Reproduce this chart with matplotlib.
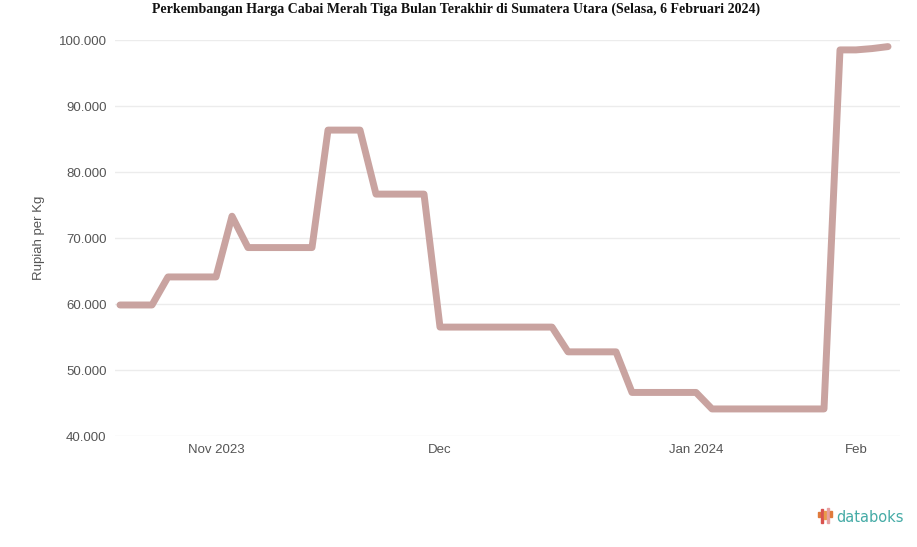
import numpy as np
import matplotlib
matplotlib.use('Agg')
import matplotlib.pyplot as plt
from matplotlib.patches import Rectangle

# harga harian (Rp/kg), urut waktu
prices = [59850, 59850, 59850,
          64100, 64100, 64100, 64100,
          73300,
          68550, 68550, 68550, 68550, 68550,
          86350, 86350, 86350,
          76650, 76650, 76650, 76650,
          56500, 56500, 56500, 56500, 56500, 56500, 56500, 56500,
          52750, 52750, 52750, 52750,
          46600, 46600, 46600, 46600, 46600,
          44100, 44100, 44100, 44100, 44100, 44100, 44100, 44100,
          98500, 98500, 98700, 99000]
month_idx = [6, 20, 36, 46]
month_labels = ['Nov 2023', 'Dec', 'Jan 2024', 'Feb']
yticks = [40000, 50000, 60000, 70000, 80000, 90000, 100000]

title = 'Perkembangan Harga Cabai Merah Tiga Bulan Terakhir di Sumatera Utara (Selasa, 6 Februari 2024)'

W, H = 917, 547
fig = plt.figure(figsize=(W / 100, H / 100), dpi=100)
ax = fig.add_axes([115 / W, (H - 436) / H, (900 - 115) / W, (436 - 40) / H])

x = np.arange(len(prices))
ax.plot(x, prices, color='#c9a3a0', lw=5, solid_joinstyle='round', solid_capstyle='round', zorder=3)

ax.set_xlim(-0.3125, 48.75)
ax.set_ylim(40000, 100000)
ax.set_yticks(yticks)
ax.set_yticklabels([f'{v:,}'.replace(',', '.') for v in yticks], fontsize=9.5, color='#555555',
                   family='Liberation Sans')
ax.set_xticks(month_idx)
ax.set_xticklabels(month_labels, fontsize=9.5, color='#555555', family='Liberation Sans')
ax.tick_params(length=0, pad=6)
ax.tick_params(axis='y', pad=6)
ax.grid(axis='y', color='#ececec', lw=1)
ax.set_axisbelow(True)
for s in ax.spines.values():
    s.set_visible(False)
ax.set_ylabel('Rupiah per Kg', fontsize=9.5, color='#555555', family='Liberation Sans', labelpad=10)

fig.text(0.497, 1 - 9 / H, title, ha='center', va='center', fontsize=10, fontweight='bold',
         family='Liberation Serif', color='#111111')

# logo databoks
fig.text(836 / W, 1 - 518 / H, 'databoks', ha='left', va='center', fontsize=10.5,
         color='#45aba6', family='DejaVu Sans')
bars = [(818, 512, 5, '#e07a3c'), (821, 509, 14, '#d9534f'), (824, 511, 8, '#e89a4a'),
        (827, 508, 15, '#e8a0a0'), (830, 511, 6, '#e07a3c')]
for bx, by, bh, bc in bars:
    fig.patches.append(Rectangle((bx / W, 1 - (by + bh) / H), 2 / W, bh / H,
                                 transform=fig.transFigure, color=bc, figure=fig))

fig.savefig('out.png', dpi=100, facecolor='white')
